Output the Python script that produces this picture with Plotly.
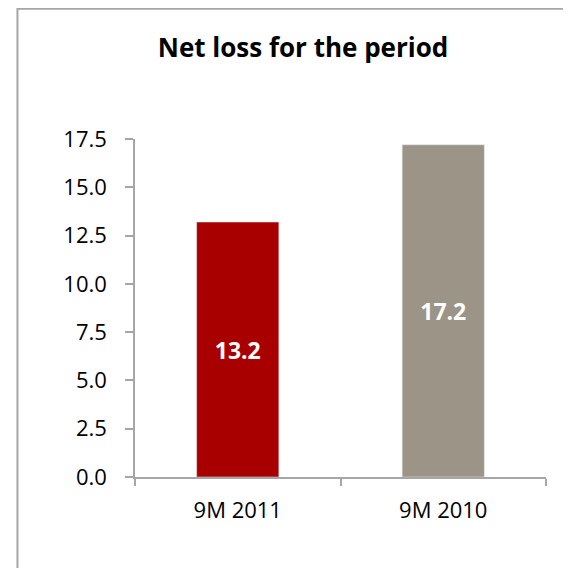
import plotly.graph_objects as go

# data
periods = ["9M 2011", "9M 2010"]
net_loss = [13.2, 17.2]
bar_colors = ["#A80000", "#9C9587"]
y_ticks = [0, 2.5, 5, 7.5, 10, 12.5, 15, 17.5]

FONT = "Open Sans"
AXIS = "#A6A6A6"

fig = go.Figure()
fig.add_trace(
    go.Bar(
        x=periods,
        y=net_loss,
        marker_color=bar_colors,
        text=[f"{v:.1f}" for v in net_loss],
        textposition="inside",
        insidetextanchor="middle",
        textangle=0,
        textfont=dict(family=FONT, size=23, color="white", weight="bold"),
        hoverinfo="x+y",
    )
)

# the page body adds an 8px offset, so the figure is 8px smaller than the window
fig.update_layout(
    width=563,
    height=560,
    margin=dict(l=127, r=25, t=131, b=91),
    paper_bgcolor="white",
    plot_bgcolor="white",
    showlegend=False,
    bargap=0.6,
    font=dict(family=FONT, size=22, color="black"),
    title=dict(
        text="<b>Net loss for the period</b>",
        x=0.524,
        xanchor="center",
        y=0.928,
        yanchor="middle",
        font=dict(family=FONT, size=26, color="black"),
    ),
)

fig.update_xaxes(
    type="category",
    tickson="boundaries",
    ticks="outside",
    ticklen=7,
    tickcolor=AXIS,
    tickwidth=1.5,
    showline=True,
    linecolor=AXIS,
    linewidth=1.5,
    showgrid=False,
    ticklabelstandoff=13,
)
fig.update_yaxes(
    range=[0, 17.5],
    tickvals=y_ticks,
    tickformat=".1f",
    ticks="outside",
    ticklen=8,
    tickcolor=AXIS,
    tickwidth=1.5,
    showline=True,
    linecolor=AXIS,
    linewidth=1.5,
    showgrid=False,
    zeroline=False,
    ticklabelstandoff=14,
)

# chart-area border, running off the right and bottom edges like the reference
fig.add_shape(
    type="rect",
    xref="paper",
    yref="paper",
    x0=-0.286,
    x1=1.09,
    y0=-0.32,
    y1=1.385,
    line=dict(color=AXIS, width=2),
    fillcolor="rgba(0,0,0,0)",
    layer="below",
)

fig.write_html("out.html")
